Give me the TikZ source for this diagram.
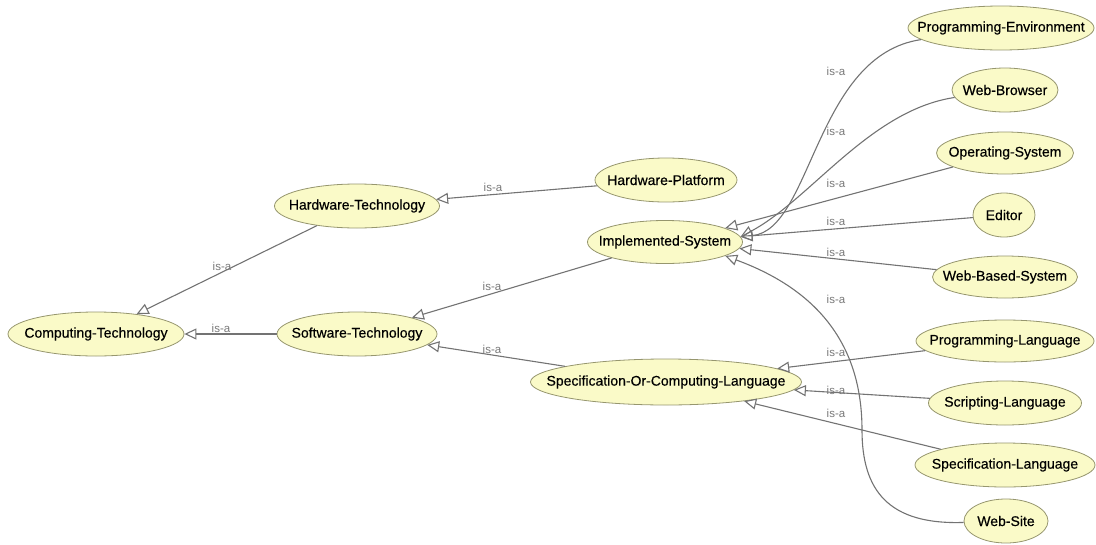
\documentclass[tikz,border=0pt]{standalone}
\usepackage{fontspec}
\setmainfont{Liberation Sans}
\newfontfamily\classfont[FakeBold=0.4]{Liberation Sans}
\usepackage{tikz}
\usetikzlibrary{shapes.geometric}
\usetikzlibrary{arrows.meta}
\definecolor{classfill}{RGB}{250,250,200}
\definecolor{classline}{RGB}{150,150,110}
\definecolor{isaline}{RGB}{115,115,115}
\definecolor{isagray}{RGB}{120,120,120}
% keep the ellipse size independent of the text width
\newcommand{\cname}[1]{\makebox[0pt]{#1}}

\begin{document}
\begin{tikzpicture}[
  x=1pt,
  y=-1pt
]

  \tikzstyle{classnode}=[draw=classline,ellipse,fill=classfill,line width=0.8pt,inner sep=0pt,minimum height=44pt,font=\classfont\fontsize{14}{16}\selectfont]
  \tikzstyle{isa}=[draw=isaline,line width=1.1pt,-{Triangle[open,length=12pt,width=11pt]}]
  \tikzstyle{isalab}=[text=isagray,inner sep=0pt,font=\fontsize{11.5}{12}\selectfont]

  \useasboundingbox (0,0) rectangle (1096,544);

  % nodes
  \node[classnode,minimum width=176pt] (ct) at (96,334) {\cname{Computing-Technology}};
  \node[classnode,minimum width=160pt] (st) at (357,334) {\cname{Software-Technology}};
  \node[classnode,minimum width=165pt] (ht) at (357,206) {\cname{Hardware-Technology}};
  \node[classnode,minimum width=142pt] (hp) at (666,180) {\cname{Hardware-Platform}};
  \node[classnode,minimum width=155pt,minimum height=43pt] (is) at (665,242) {\cname{Implemented-System}};
  \node[classnode,minimum width=271pt,minimum height=46pt] (socl) at (666,382) {\cname{Specification-Or-Computing-Language}};

  \node[classnode,minimum width=186pt] (pe) at (1001,28) {\cname{Programming-Environment}};
  \node[classnode,minimum width=106pt] (wb) at (1005,90) {\cname{Web-Browser}};
  \node[classnode,minimum width=137pt,minimum height=42pt] (os) at (1005,153) {\cname{Operating-System}};
  \node[classnode,minimum width=62pt] (ed) at (1004,215) {\cname{Editor}};
  \node[classnode,minimum width=145pt,minimum height=42pt] (wbs) at (1005,277) {\cname{Web-Based-System}};
  \node[classnode,minimum width=178pt,minimum height=42pt] (pl) at (1005,341) {\cname{Programming-Language}};
  \node[classnode,minimum width=153pt] (sl) at (1005,403) {\cname{Scripting-Language}};
  \node[classnode,minimum width=180pt] (spl) at (1005,465) {\cname{Specification-Language}};
  \node[classnode,minimum width=84pt] (ws) at (1006,521) {\cname{Web-Site}};

  % is-a links
  \draw[isa] (ht) -- (ct);
  \draw[isa] (st) -- (ct);
  \draw[isa] (hp) -- (ht);
  \draw[isa] (is) -- (st);
  \draw[isa] (socl) -- (st);

  \draw[isa] (pe) .. controls (815,55) and (812,230) .. (is.4);
  \draw[isa] (wb) .. controls (870,110) and (810,200) .. (is.4);
  \draw[isa] (os) -- (is.13);
  \draw[isa] (ed) -- (is.4);
  \draw[isa] (wbs) -- (is.-5);
  \draw[isa] (ws) .. controls (888,525) and (862,490) .. (862,430)
                  .. controls (862,345) and (818,290) .. (is.-13);

  \draw[isa] (pl) -- (socl);
  \draw[isa] (sl) -- (socl);
  \draw[isa] (spl) -- (socl);

  % labels
  \node[isalab] (l1) at (222,266) {is-a};
  \node[isalab] (l2) at (221,328) {is-a};
  \node[isalab] (l3) at (493,187) {is-a};
  \node[isalab] (l4) at (492,286) {is-a};
  \node[isalab] (l5) at (492,349) {is-a};
  \node[isalab] (l6) at (836,71) {is-a};
  \node[isalab] (l7) at (836,131) {is-a};
  \node[isalab] (l8) at (836,183) {is-a};
  \node[isalab] (l9) at (836,221) {is-a};
  \node[isalab] (l10) at (836,252) {is-a};
  \node[isalab] (l11) at (836,299) {is-a};
  \node[isalab] (l12) at (836,352) {is-a};
  \node[isalab] (l13) at (836,390) {is-a};
  \node[isalab] (l14) at (836,413) {is-a};

\end{tikzpicture}
\end{document}
